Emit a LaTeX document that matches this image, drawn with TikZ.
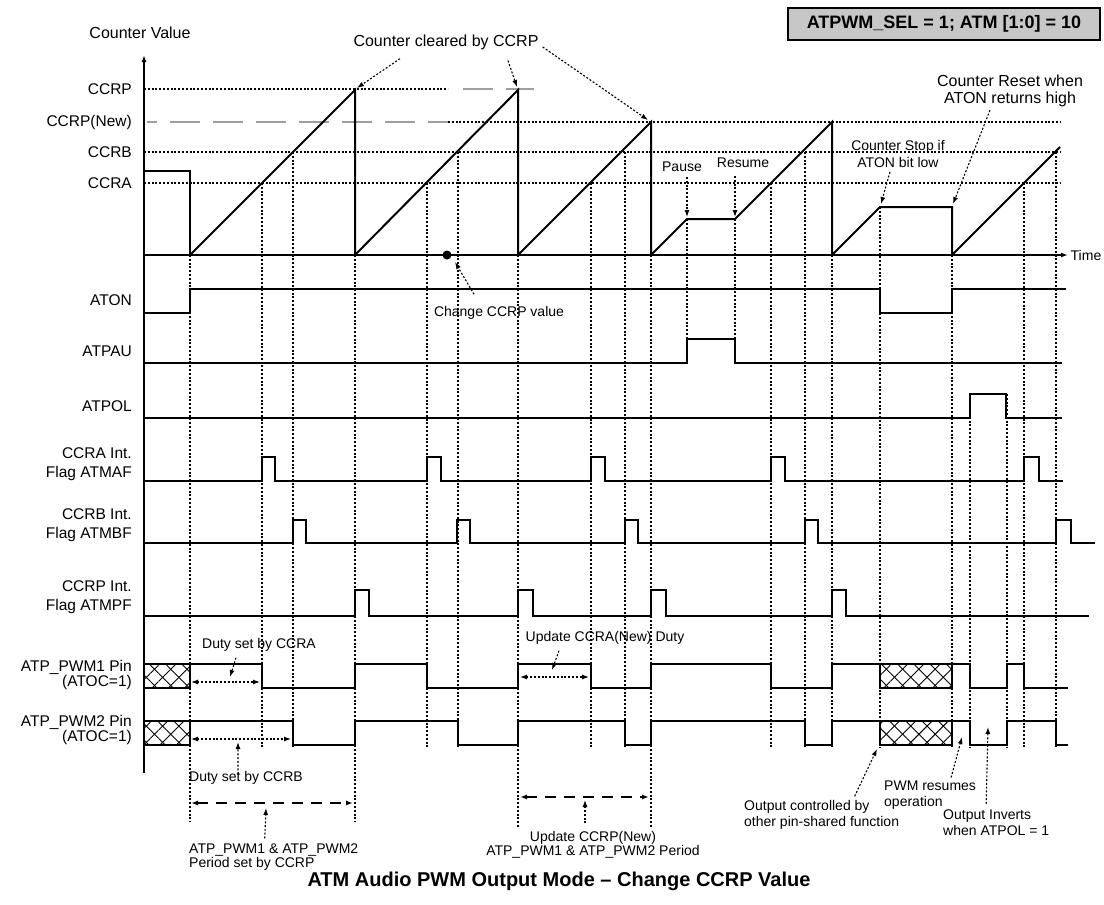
\documentclass[tikz,border=0pt]{standalone}
\usepackage{fontspec}
\setmainfont{Liberation Sans}
\usetikzlibrary{positioning,arrows.meta,patterns.meta}

\begin{document}
\begin{tikzpicture}[
  x=1pt, y=-1pt,
  tip/.style={-{Latex[length=7pt,width=5pt]}},
  sig/.style={line width=1.4pt},
  cnt/.style={line width=2pt},
  dots/.style={line width=1.1pt, dash pattern=on 2pt off 1.8pt},
  grey/.style={line width=1.6pt, black!38, dash pattern=on 30pt off 13pt},
  note/.style={dots, tip},
  span/.style={dots, {Latex[length=7pt,width=5pt]}-{Latex[length=7pt,width=5pt]}},
  period/.style={line width=1.4pt, dash pattern=on 11pt off 8pt, {Latex[length=7pt,width=5pt]}-{Latex[length=7pt,width=5pt]}},
  lbl/.style={anchor=east, align=right, inner sep=0pt, font=\fontsize{15.5}{19}\selectfont},
  txt/.style={align=left, inner sep=0pt, font=\fontsize{14}{16}\selectfont},
  big/.style={align=center, inner sep=0pt, font=\fontsize{16}{17}\selectfont},
  hatch/.style={pattern={Lines[angle=45,distance=11.5pt,line width=0.9pt]},
    postaction={pattern={Lines[angle=-45,distance=11.5pt,line width=0.9pt]}}},
]
\useasboundingbox (0,0) rectangle (1104,905);

\node[draw, line width=1.2pt, fill=black!22, minimum width=312pt, minimum height=32pt,
  font=\bfseries\fontsize{18}{20}\selectfont] (mode) at (944,24) {ATPWM\_SEL = 1; ATM [1:0] = 10};
\node[big] (cv) at (140,33) {Counter Value};

\node[lbl] (lP) at (132,89) {CCRP};
\node[lbl] (lN) at (132,122) {CCRP(New)};
\node[lbl] (lB) at (132,152) {CCRB};
\node[lbl] (lA) at (132,183) {CCRA};
\node[lbl] (lon) at (132,300) {ATON};
\node[lbl] (lpau) at (132,351) {ATPAU};
\node[lbl] (lpol) at (132,406) {ATPOL};
\node[lbl] (lmaf) at (132,464) {CCRA Int.\\Flag ATMAF};
\node[lbl] (lmbf) at (132,525) {CCRB Int.\\Flag ATMBF};
\node[lbl] (lmpf) at (132,597) {CCRP Int.\\Flag ATMPF};
\node[lbl, font=\fontsize{15.5}{14}\selectfont] (lpw1) at (132,675) {ATP\_PWM1 Pin\\(ATOC=1)};
\node[lbl, font=\fontsize{15.5}{15}\selectfont] (lpw2) at (132,730) {ATP\_PWM2 Pin\\(ATOC=1)};

\draw[dots] (144,89) -- (448,89);
\draw[grey] (463,89) -- (534,89);
\draw[grey, dash phase=20pt] (147,122) -- (448,122);
\draw[dots] (448,122) -- (1060,122);
\draw[dots] (144,152) -- (1060,152);
\draw[dots] (144,183) -- (1060,183);

\foreach \x/\a/\b in {190/255/822, 262/183/748, 293/152/748, 355/255/822, 427/183/748,
  458/152/748, 518/255/828, 591/183/748, 625/152/748, 651/255/828, 687/219/339,
  735/219/339, 771/183/748, 805/152/748, 832/255/748, 880/207/748, 952/255/748,
  970/394/748, 1007/394/748, 1024/183/748, 1056/152/748}
  \draw[dots] (\x,\a) -- (\x,\b);

\draw[sig, tip] (144,773) -- (144,55);
\draw[sig, tip] (144,255) -- (1068,255) node[right=2pt, txt] (time) {Time};

\draw[sig] (144,171) -- (190,171) -- (190,255);
\draw[cnt] (190,255) -- (355,90) -- (355,255) -- (518,90) -- (518,255) -- (651,122)
  -- (651,255) -- (687,219) -- (735,219) -- (832,122) -- (832,255) -- (880,207)
  -- (952,207) -- (952,255) -- (1060,147);

\draw[sig] (144,313) -- (190,313) -- (190,289) -- (880,289) -- (880,313) -- (952,313)
  -- (952,289) -- (1066,289);
\draw[sig] (144,363) -- (687,363) -- (687,339) -- (735,339) -- (735,363) -- (1062,363);
\draw[sig] (144,418) -- (970,418) -- (970,394) -- (1006,394) -- (1006,418) -- (1062,418);
\draw[sig] (144,481) foreach \a/\b in {262/275, 427/441, 591/605, 771/785, 1024/1039}
  { -- (\a,481) -- (\a,457) -- (\b,457) -- (\b,481) } -- (1063,481);
\draw[sig] (144,543) foreach \a/\b in {293/306, 457/470, 625/638, 805/818, 1056/1071}
  { -- (\a,543) -- (\a,520) -- (\b,520) -- (\b,543) } -- (1095,543);
\draw[sig] (144,616) foreach \a/\b in {355/369, 518/533, 651/666, 832/846}
  { -- (\a,616) -- (\a,590) -- (\b,590) -- (\b,616) } -- (1089,616);

\draw[sig, hatch] (144,664) rectangle (190,688);
\draw[sig, hatch] (880,664) rectangle (952,688);
\draw[sig] (190,664) -- (262,664) -- (262,688) -- (355,688) -- (355,664) -- (427,664)
  -- (427,688) -- (518,688) -- (518,664) -- (591,664) -- (591,688) -- (651,688)
  -- (651,664) -- (771,664) -- (771,688) -- (832,688) -- (832,664) -- (880,664);
\draw[sig] (952,664) -- (970,664) -- (970,688) -- (1007,688) -- (1007,664) -- (1024,664)
  -- (1024,688) -- (1068,688);

\draw[sig, hatch] (144,721) rectangle (190,745);
\draw[sig, hatch] (880,721) rectangle (952,745);
\draw[sig] (190,721) -- (293,721) -- (293,745) -- (355,745) -- (355,721) -- (458,721)
  -- (458,745) -- (518,745) -- (518,721) -- (625,721) -- (625,745) -- (651,745)
  -- (651,721) -- (805,721) -- (805,745) -- (832,745) -- (832,721) -- (880,721);
\draw[sig] (952,721) -- (970,721) -- (970,745) -- (1007,745) -- (1007,721) -- (1056,721)
  -- (1056,745) -- (1068,745);

\node[big] (cleared) at (446,42) {Counter cleared by CCRP};
\node[big] (reset) at (1010,91) {Counter Reset when\\ATON returns high};
\node[txt, align=center, font=\fontsize{14}{17}\selectfont] (stop) at (898,154) {Counter Stop if\\ATON bit low};
\node[txt] (pause) at (682,167) {Pause};
\node[txt] (resume) at (743,163) {Resume};
\node[txt] (change) at (499,313) {Change CCRP value};
\node[txt] (dutyA) at (259,645) {Duty set by CCRA};
\node[txt, anchor=west] (dutyB) at (189,778) {Duty set by CCRB};
\node[txt] (dutyN) at (605,638) {Update CCRA(New) Duty};
\node[txt, anchor=west, font=\fontsize{14}{14}\selectfont] (per1) at (189,857) {ATP\_PWM1 \& ATP\_PWM2\\Period set by CCRP};
\node[txt, align=center, font=\fontsize{14}{14}\selectfont] (per2) at (593,845) {Update CCRP(New)\\ATP\_PWM1 \& ATP\_PWM2 Period};
\node[txt, anchor=west] (ctrl) at (744,815) {Output controlled by\\other pin-shared function};
\node[txt, anchor=west] (resumes) at (884,795) {PWM resumes\\operation};
\node[txt, anchor=west] (inverts) at (943,823) {Output Inverts\\when ATPOL = 1};
\node[font=\bfseries\fontsize{20}{22}\selectfont] (title) at (559,881) {ATM Audio PWM Output Mode – Change CCRP Value};

\coordinate (pk1) at (357,88);
\coordinate (pk2) at (517,87);
\coordinate (pk3) at (648,120);
\coordinate (ps) at (687,217);
\coordinate (rs) at (735,217);
\coordinate (hold) at (881,204);
\coordinate (rst) at (953,204);
\coordinate (chg) at (447,255);
\fill (chg) circle (4.5);

\draw[note] ([shift={(-46,9)}]cleared.south) -- (pk1);
\draw[note] ([shift={(62,11)}]cleared.south) -- (pk2);
\draw[note] ([shift={(4,5)}]cleared.east) -- (pk3);
\draw[note] (pause.south -| ps) ++(0,5) -- (ps);
\draw[note] (resume.south -| rs) ++(0,8) -- (rs);
\draw[note] ([shift={(-8,4)}]stop.south) -- (hold);
\draw[note] ([shift={(-20,3)}]reset.south) -- (rst);
\draw[note] ([shift={(-25,-12)}]change.north) -- ([shift={(8,7)}]chg);

\draw[note] ([shift={(-23,6)}]dutyA.south) -- (230,677);
\draw[span] (191,682) -- (260,682);
\draw[note] ([shift={(-8,3)}]dutyB.north) -- (238,742);
\draw[span] (191,739) -- (291,739);
\draw[note] ([shift={(-46,6)}]dutyN.south) -- (552,670);
\draw[span] (520,677) -- (589,677);

\draw[period] (191,803) -- (353,803);
\draw[note] ([shift={(-9,-5)}]per1.north) -- (266,808);
\draw[period] (520,797) -- (649,797);
\draw[note] ([shift={(-8,-8)}]per2.north) -- (585,800);

\draw[note] ([shift={(33,-4)}]ctrl.north) -- (877,749);
\draw[note] ([shift={(21,-3)}]resumes.north) -- (962,737);
\draw[note] ([shift={(-10,-6)}]inverts.north) -- (988,727);
\end{tikzpicture}
\end{document}
